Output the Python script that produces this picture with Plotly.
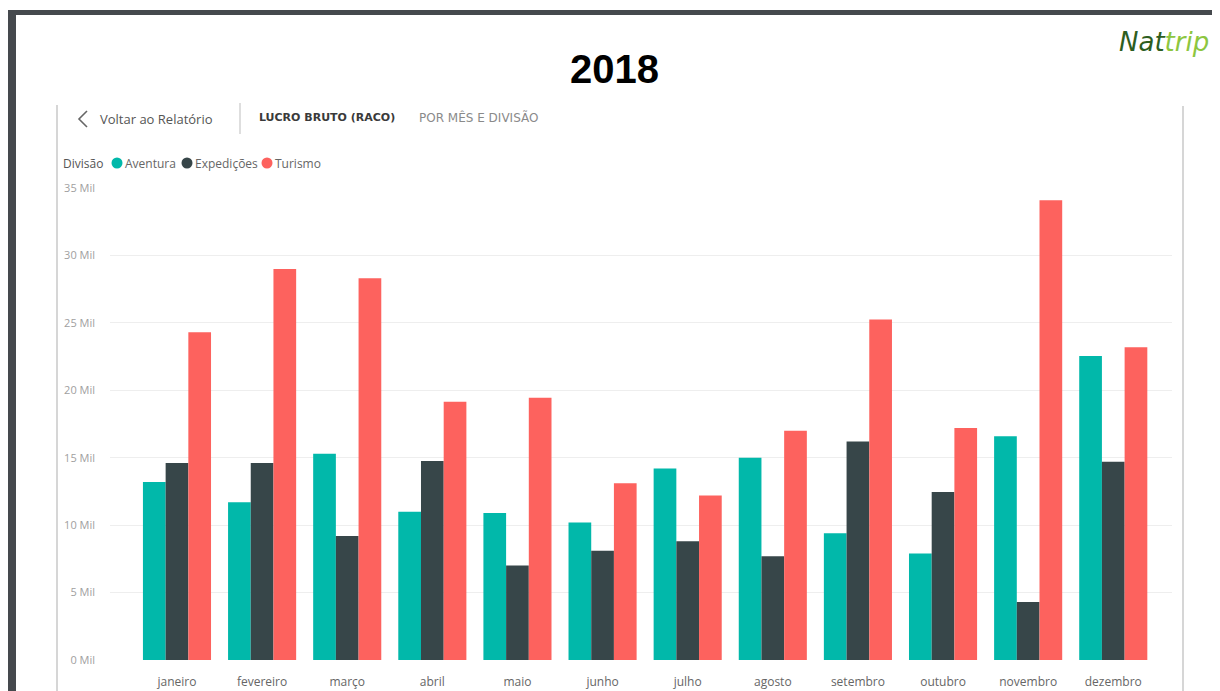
import plotly.graph_objects as go

months = ["janeiro", "fevereiro", "março", "abril", "maio", "junho",
          "julho", "agosto", "setembro", "outubro", "novembro", "dezembro"]
aventura = [13.2, 11.7, 15.3, 11.0, 10.9, 10.2, 14.2, 15.0, 9.4, 7.9, 16.6, 22.55]
expedicoes = [14.6, 14.6, 9.2, 14.75, 7.0, 8.1, 8.8, 7.7, 16.2, 12.45, 4.3, 14.7]
turismo = [24.3, 29.0, 28.3, 19.15, 19.45, 13.1, 12.2, 17.0, 25.25, 17.2, 34.1, 23.2]
series_names = ["Aventura", "Expedições", "Turismo"]
series_colors = ["#01B8AA", "#374649", "#FD625E"]
tick_vals = [0, 5, 10, 15, 20, 25, 30, 35]
tick_text = ["0 Mil", "5 Mil", "10 Mil", "15 Mil", "20 Mil", "25 Mil", "30 Mil", "35 Mil"]

OFF = 8  # page body margin
W, H = 1220 - OFF, 691 - OFF
L, R, T, B = 110 - OFF, 48, 188 - OFF, 31
PW, PH = W - L - R, H - T - B


def px(x):
    return (x - OFF - L) / PW


def py(y):
    return (H - B - (y - OFF)) / PH


fig = go.Figure()
for name, vals, col in zip(series_names, [aventura, expedicoes, turismo], series_colors):
    fig.add_trace(go.Bar(x=months, y=vals, name=name, marker=dict(color=col, line=dict(width=0)),
                         showlegend=False))

shapes = []
# outer dark frame
shapes.append(dict(type="rect", xref="paper", yref="paper", x0=px(7), x1=px(1225), y0=py(10), y1=py(15),
                   fillcolor="#45494d", line=dict(width=0), layer="above"))
shapes.append(dict(type="rect", xref="paper", yref="paper", x0=px(7), x1=px(16), y0=py(10), y1=py(700),
                   fillcolor="#45494d", line=dict(width=0), layer="above"))
# report panel edges
shapes.append(dict(type="line", xref="paper", yref="paper", x0=px(57), x1=px(57), y0=py(105), y1=py(700),
                   line=dict(color="#c9c9c9", width=1.5)))
shapes.append(dict(type="line", xref="paper", yref="paper", x0=px(1183), x1=px(1183), y0=py(106), y1=py(700),
                   line=dict(color="#c9c9c9", width=1.5)))
# header separator
shapes.append(dict(type="line", xref="paper", yref="paper", x0=px(240), x1=px(240), y0=py(103), y1=py(134),
                   line=dict(color="#bdbdbd", width=1)))
# back chevron
shapes.append(dict(type="path", xref="paper", yref="paper",
                   path="M {} {} L {} {} L {} {}".format(px(87), py(111), px(79), py(119), px(87), py(127)),
                   line=dict(color="#666666", width=1.6)))

annotations = []
# title
annotations.append(dict(text="<b>2018</b>", xref="paper", yref="paper", x=px(614), y=py(69),
                        xanchor="center", yanchor="middle", showarrow=False,
                        font=dict(family="Liberation Sans, Arial", size=40, color="#000000")))
# logo
annotations.append(dict(text="<i><span style='color:#2e5e1f'>Nat</span><span style='color:#8dc63f'>trip</span></i>",
                        xref="paper", yref="paper", x=px(1164), y=py(42), xanchor="center", yanchor="middle",
                        showarrow=False, font=dict(family="DejaVu Sans", size=26)))
# header
annotations.append(dict(text="Voltar ao Relatório", xref="paper", yref="paper", x=px(98), y=py(119),
                        xanchor="left", yanchor="middle", showarrow=False,
                        font=dict(family="Open Sans", size=13, color="#555555")))
annotations.append(dict(text="<b>LUCRO BRUTO (RACO)</b>", xref="paper", yref="paper", x=px(257), y=py(118),
                        xanchor="left", yanchor="middle", showarrow=False,
                        font=dict(family="DejaVu Sans", size=11, color="#3a3a3a")))
annotations.append(dict(text="POR MÊS E DIVISÃO", xref="paper", yref="paper", x=px(417), y=py(118),
                        xanchor="left", yanchor="middle", showarrow=False,
                        font=dict(family="DejaVu Sans", size=12, color="#8a8a8a")))
# legend
annotations.append(dict(text="Divisão", xref="paper", yref="paper", x=px(61), y=py(163),
                        xanchor="left", yanchor="middle", showarrow=False,
                        font=dict(family="Open Sans", size=12, color="#555555")))
leg_circle_x = [117, 187, 267]
leg_text_x = [123, 193, 273]
for name, col, cx, tx in zip(series_names, series_colors, leg_circle_x, leg_text_x):
    shapes.append(dict(type="circle", xref="paper", yref="paper", x0=px(cx - 5.5), x1=px(cx + 5.5),
                       y0=py(168.5), y1=py(157.5), fillcolor=col, line=dict(width=0)))
    annotations.append(dict(text=name, xref="paper", yref="paper", x=px(tx), y=py(163),
                            xanchor="left", yanchor="middle", showarrow=False,
                            font=dict(family="Open Sans", size=12, color="#666666")))

fig.update_layout(
    width=W, height=H,
    margin=dict(l=L, r=R, t=T, b=B, autoexpand=False),
    paper_bgcolor="white", plot_bgcolor="white",
    barmode="group", bargap=0.2, bargroupgap=0,
    shapes=shapes, annotations=annotations,
    xaxis=dict(type="category", range=[-0.787, 11.69], showgrid=False, showline=False, zeroline=False,
               ticks="", tickfont=dict(family="Open Sans", size=12, color="#666666"),
               ticklabelstandoff=13),
    yaxis=dict(range=[0, 35], tickvals=tick_vals, ticktext=tick_text, showgrid=True,
               gridcolor="#eeeeee", gridwidth=1, zeroline=False, showline=False, ticks="",
               tickfont=dict(family="Open Sans", size=11, color="#a0a0a0"), ticklabelstandoff=14),
)

fig.write_html("out.html")
